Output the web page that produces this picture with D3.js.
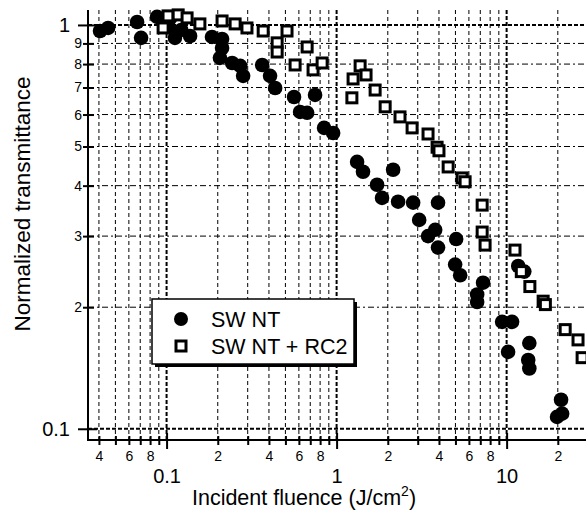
<!DOCTYPE html>
<html>
<head>
<meta charset="utf-8">
<script src="https://cdn.jsdelivr.net/npm/d3@7"></script>
<style>
  body { margin: 0; background: #fff; }
  text { font-family: "Liberation Sans", Arial, sans-serif; fill: #000; }
</style>
</head>
<body>
<svg id="chart" width="586" height="510"></svg>
<script>
// SWNT (filled circles)
var swntFluence = [0.0406, 0.0453, 0.0671, 0.0708, 0.0879, 0.102, 0.105, 0.112, 0.122, 0.1375,
  0.185, 0.212, 0.212, 0.206, 0.243, 0.271, 0.282, 0.365, 0.406, 0.435,
  0.562, 0.610, 0.671, 0.747, 0.844, 0.954, 1.32, 1.43, 2.15, 1.73,
  1.85, 2.30, 2.82, 3.95, 3.06, 3.45, 3.80, 3.95, 5.05, 4.98,
  5.33, 6.71, 7.27, 6.71, 9.41, 10.77, 10.2, 13.6, 13.4, 13.6,
  20.9, 21.2, 19.8, 11.7, 12.7];
var swntTrans = [0.966, 0.983, 1.017, 0.929, 1.047, 0.989, 1.04, 0.929, 0.972, 0.939,
  0.934, 0.923, 0.877, 0.829, 0.805, 0.792, 0.748, 0.796, 0.748, 0.698,
  0.663, 0.609, 0.606, 0.671, 0.556, 0.540, 0.458, 0.433, 0.438, 0.402,
  0.373, 0.365, 0.363, 0.363, 0.329, 0.300, 0.311, 0.281, 0.295, 0.255,
  0.240, 0.215, 0.230, 0.206, 0.184, 0.184, 0.155, 0.163, 0.148, 0.141,
  0.118, 0.109, 0.107, 0.253, 0.245];

// SWNT + RC2 (open squares)
var rc2Fluence = [0.0954, 0.102, 0.117, 0.132, 0.157, 0.212, 0.253, 0.297, 0.370, 0.447,
  0.447, 0.511, 0.671, 0.570, 0.727, 0.822, 1.25, 1.375, 1.49, 1.23,
  1.685, 1.93, 2.36, 2.78, 3.45, 3.90, 4.00, 4.53, 5.47, 5.70,
  7.18, 7.18, 7.47, 11.2, 12.2, 13.7, 16.4, 16.9, 22.1, 26.3, 27.8];
var rc2Trans = [0.983, 1.053, 1.059, 1.041, 1.006, 1.023, 1.006, 0.983, 0.966, 0.903,
  0.857, 0.966, 0.882, 0.796, 0.774, 0.805, 0.735, 0.792, 0.752, 0.660,
  0.690, 0.627, 0.592, 0.556, 0.537, 0.498, 0.488, 0.445, 0.418, 0.409,
  0.358, 0.307, 0.285, 0.277, 0.245, 0.225, 0.207, 0.203, 0.176, 0.166, 0.150];

// axis ticks and labels
var xMajorTicks = [0.1, 1, 10];
var xMajorLabels = ["0.1", "1", "10"];
var xMinorTicks = [0.04, 0.05, 0.06, 0.07, 0.08, 0.09,
  0.2, 0.3, 0.4, 0.5, 0.6, 0.7, 0.8, 0.9,
  2, 3, 4, 5, 6, 7, 8, 9, 20];
var xMinorLabels = ["4", "", "6", "", "8", "",
  "2", "", "4", "", "6", "", "8", "",
  "2", "", "4", "", "6", "", "8", "", "2"];
var yMajorTicks = [0.1, 1];
var yMajorLabels = ["0.1", "1"];
var yMinorTicks = [0.2, 0.3, 0.4, 0.5, 0.6, 0.7, 0.8, 0.9];
var yMinorLabels = ["2", "3", "4", "5", "6", "7", "8", "9"];

var svg = d3.select("#chart");
var plotLeft = 88, plotRight = 586, plotTop = 10, plotBottom = 440;

var x = d3.scaleLog().domain([0.0345, 29.3]).range([plotLeft, plotRight]);
var y = d3.scaleLog().domain([0.0938, 1.089]).range([plotBottom, plotTop]);

// grid
var grid = svg.append("g");
grid.selectAll(".vmin").data(xMinorTicks).join("line")
  .attr("x1", function(d) { return x(d); }).attr("x2", function(d) { return x(d); })
  .attr("y1", plotTop).attr("y2", plotBottom)
  .attr("stroke", "#000").attr("stroke-width", 1).attr("stroke-dasharray", "4,3");
grid.selectAll(".hmin").data(yMinorTicks).join("line")
  .attr("x1", plotLeft).attr("x2", plotRight)
  .attr("y1", function(d) { return y(d); }).attr("y2", function(d) { return y(d); })
  .attr("stroke", "#000").attr("stroke-width", 1).attr("stroke-dasharray", "6,3,2,3");
grid.selectAll(".vmaj").data(xMajorTicks).join("line")
  .attr("x1", function(d) { return x(d); }).attr("x2", function(d) { return x(d); })
  .attr("y1", plotTop).attr("y2", plotBottom)
  .attr("stroke", "#000").attr("stroke-width", 2).attr("stroke-dasharray", "4,2");
grid.selectAll(".hmaj").data(yMajorTicks).join("line")
  .attr("x1", plotLeft).attr("x2", plotRight)
  .attr("y1", function(d) { return y(d); }).attr("y2", function(d) { return y(d); })
  .attr("stroke", "#000").attr("stroke-width", 2).attr("stroke-dasharray", "4,2");

// x axis
var gxMin = svg.append("g").attr("transform", "translate(0," + plotBottom + ")")
  .call(d3.axisBottom(x).tickValues(xMinorTicks).tickSize(5)
    .tickFormat(function(d, i) { return xMinorLabels[i]; }));
gxMin.select(".domain").remove();
gxMin.selectAll(".tick line").attr("y1", -4).attr("stroke-width", 2);
gxMin.selectAll(".tick text").attr("y", 21).attr("dy", null)
  .style("font-size", "14px").style("font-family", "Liberation Sans, Arial, sans-serif");

var gxMaj = svg.append("g").attr("transform", "translate(0," + plotBottom + ")")
  .call(d3.axisBottom(x).tickValues(xMajorTicks).tickSize(9)
    .tickFormat(function(d, i) { return xMajorLabels[i]; }));
gxMaj.select(".domain").remove();
gxMaj.selectAll(".tick line").attr("y1", -7).attr("stroke-width", 2);
gxMaj.selectAll(".tick text").attr("y", 43).attr("dy", null)
  .style("font-size", "20px").style("font-family", "Liberation Sans, Arial, sans-serif");

// y axis
var gyMin = svg.append("g").attr("transform", "translate(" + plotLeft + ",0)")
  .call(d3.axisLeft(y).tickValues(yMinorTicks).tickSize(5)
    .tickFormat(function(d, i) { return yMinorLabels[i]; }));
gyMin.select(".domain").remove();
gyMin.selectAll(".tick line").attr("x1", 6).attr("stroke-width", 2);
gyMin.selectAll(".tick text").attr("x", -6)
  .style("font-size", "14px").style("font-family", "Liberation Sans, Arial, sans-serif");

var gyMaj = svg.append("g").attr("transform", "translate(" + plotLeft + ",0)")
  .call(d3.axisLeft(y).tickValues(yMajorTicks).tickSize(10)
    .tickFormat(function(d, i) { return yMajorLabels[i]; }));
gyMaj.select(".domain").remove();
gyMaj.selectAll(".tick line").attr("x1", 9).attr("stroke-width", 2);
gyMaj.selectAll(".tick text").attr("x", -18)
  .style("font-size", "20px").style("font-family", "Liberation Sans, Arial, sans-serif");

// axis lines
svg.append("line").attr("x1", plotLeft).attr("x2", plotLeft).attr("y1", plotTop).attr("y2", plotBottom + 1)
  .attr("stroke", "#000").attr("stroke-width", 2);
svg.append("line").attr("x1", plotLeft - 1).attr("x2", plotRight).attr("y1", plotBottom).attr("y2", plotBottom)
  .attr("stroke", "#000").attr("stroke-width", 2);

// data
svg.append("g").selectAll("circle").data(swntFluence).join("circle")
  .attr("cx", function(d) { return x(d); })
  .attr("cy", function(d, i) { return y(swntTrans[i]); })
  .attr("r", 7.3).attr("fill", "#000");

svg.append("g").selectAll("rect").data(rc2Fluence).join("rect")
  .attr("x", function(d) { return x(d) - 5; })
  .attr("y", function(d, i) { return y(rc2Trans[i]) - 5; })
  .attr("width", 10).attr("height", 10)
  .attr("fill", "#fff").attr("stroke", "#000").attr("stroke-width", 3);

// legend
var lg = svg.append("g");
lg.append("rect").attr("x", 155).attr("y", 302).attr("width", 202).attr("height", 65).attr("fill", "#000");
lg.append("rect").attr("x", 152).attr("y", 299).attr("width", 202).attr("height", 65)
  .attr("fill", "#fff").attr("stroke", "#000").attr("stroke-width", 1.5);
lg.append("circle").attr("cx", 181).attr("cy", 319).attr("r", 7).attr("fill", "#000");
lg.append("rect").attr("x", 176).attr("y", 341).attr("width", 10).attr("height", 10)
  .attr("fill", "#fff").attr("stroke", "#000").attr("stroke-width", 3);
lg.append("text").attr("x", 211).attr("y", 327).style("font-size", "21.5px").text("SW NT");
lg.append("text").attr("x", 211).attr("y", 354).style("font-size", "21.5px").text("SW NT + RC2");

// titles
var xt = svg.append("text").attr("x", 304).attr("y", 505).attr("text-anchor", "middle")
  .style("font-size", "21.5px");
xt.append("tspan").text("Incident fluence (J/cm");
xt.append("tspan").attr("dy", -9).style("font-size", "14px").text("2");
xt.append("tspan").attr("dy", 9).text(")");

svg.append("text").attr("transform", "translate(30,204) rotate(-90)")
  .attr("text-anchor", "middle").style("font-size", "22.5px").text("Normalized transmittance");
</script>
</body>
</html>
